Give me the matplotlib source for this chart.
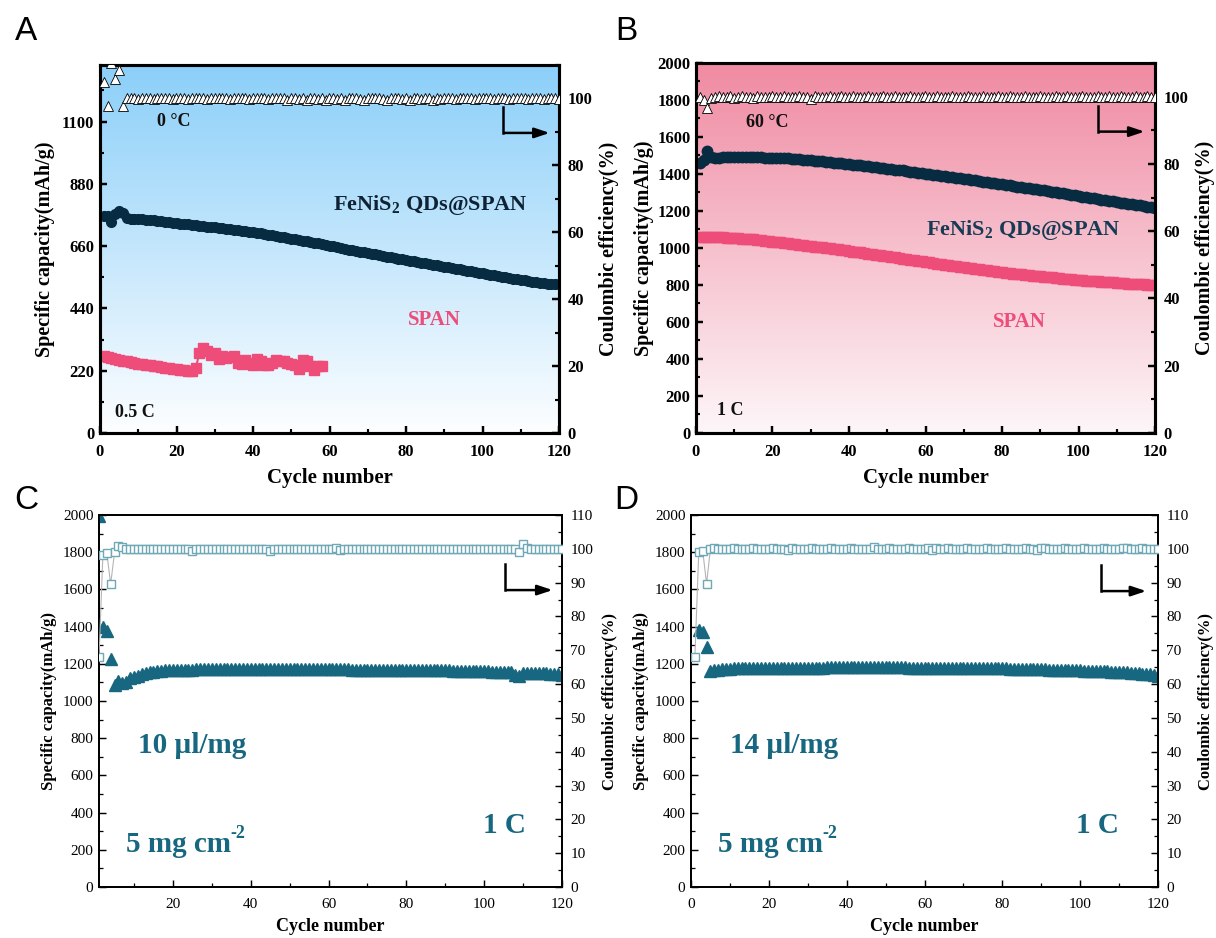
import numpy as np
import matplotlib.pyplot as plt
from matplotlib.colors import LinearSegmentedColormap
from matplotlib.ticker import MultipleLocator

plt.rcParams['font.family'] = 'Liberation Serif'
plt.rcParams['font.weight'] = 'bold'
plt.rcParams['axes.labelweight'] = 'bold'
plt.rcParams['mathtext.fontset'] = 'custom'
plt.rcParams['mathtext.rm'] = 'Liberation Serif:bold'
plt.rcParams['mathtext.it'] = 'Liberation Serif:italic:bold'
plt.rcParams['mathtext.bf'] = 'Liberation Serif:bold'

cycles = np.arange(1, 121)

# ---- panel A: 0 °C, 0.5 C ----
a_fenis2 = [765, 768, 745, 772, 785, 778, 758, 757, 757, 756,
            755, 754, 752, 751, 749, 748, 746, 745, 743, 741,
            740, 738, 737, 735, 734, 732, 731, 729, 728, 726,
            725, 723, 722, 720, 718, 717, 715, 713, 711, 709,
            707, 705, 703, 701, 699, 697, 694, 692, 690, 687,
            685, 682, 680, 677, 675, 672, 670, 667, 664, 661,
            659, 656, 654, 651, 648, 646, 643, 641, 638, 636,
            633, 631, 628, 626, 623, 621, 618, 616, 613, 611,
            609, 606, 604, 601, 599, 597, 594, 592, 590, 587,
            585, 583, 580, 578, 576, 573, 571, 569, 566, 564,
            562, 559, 557, 555, 552, 550, 548, 545, 543, 541,
            539, 537, 535, 533, 531, 529, 528, 527, 526, 525]
a_span = [273, 270, 266, 262, 259, 256, 253, 250, 247, 245,
          243, 241, 239, 237, 235, 233, 231, 229, 227, 226,
          224, 222, 220, 218, 229, 282, 300, 288, 276, 282,
          261, 271, 265, 268, 271, 247, 245, 259, 247, 241,
          261, 253, 241, 241, 247, 259, 253, 253, 249, 245,
          241, 226, 259, 253, 235, 221, 235, 235]
a_ce = [105.0, 97.8, 110.5, 105.8, 108.5, 97.8, 100.2, 100.0, 100.1, 99.9,
        100.0, 100.1, 100.0, 99.9, 100.1, 100.0, 100.0, 100.1, 99.9, 100.0,
        100.1, 100.0, 99.9, 100.0, 100.1, 100.0, 100.0, 99.9, 100.1, 100.0,
        100.0, 100.1, 100.0, 99.9, 100.0, 100.1, 100.0, 100.0, 99.9, 100.1,
        100.0, 100.0, 100.1, 99.9, 100.0, 100.0, 100.1, 100.0, 99.4, 100.0,
        100.1, 99.9, 100.0, 99.4, 100.1, 100.0, 99.9, 100.0, 99.4, 100.1,
        100.0, 99.9, 100.0, 99.4, 100.1, 100.0, 100.0, 99.9, 99.4, 100.1,
        100.0, 100.0, 100.1, 99.9, 99.4, 100.0, 100.1, 100.0, 99.9, 100.0,
        99.4, 100.0, 100.1, 99.9, 100.0, 100.1, 99.4, 100.0, 99.9, 100.1,
        100.0, 100.0, 99.9, 100.1, 100.0, 100.0, 100.1, 99.9, 100.0, 100.0,
        100.1, 100.0, 99.9, 100.0, 100.1, 100.0, 99.9, 100.1, 100.0, 100.0,
        100.1, 99.9, 100.0, 100.0, 100.1, 99.9, 100.0, 100.1, 100.0, 99.9]

# ---- panel B: 60 °C, 1 C ----
b_fenis2 = [1460, 1478, 1525, 1490, 1488, 1489, 1490, 1490, 1491, 1491,
            1491, 1491, 1491, 1491, 1490, 1490, 1490, 1489, 1489, 1488,
            1487, 1486, 1485, 1484, 1483, 1481, 1480, 1478, 1476, 1474,
            1472, 1470, 1468, 1466, 1464, 1462, 1460, 1458, 1456, 1454,
            1451, 1449, 1447, 1444, 1442, 1439, 1437, 1434, 1432, 1429,
            1427, 1424, 1421, 1419, 1416, 1413, 1411, 1408, 1405, 1402,
            1400, 1397, 1394, 1391, 1388, 1386, 1383, 1380, 1377, 1374,
            1371, 1368, 1365, 1362, 1359, 1356, 1353, 1350, 1347, 1344,
            1341, 1338, 1335, 1332, 1329, 1326, 1323, 1320, 1317, 1314,
            1311, 1307, 1304, 1301, 1298, 1295, 1291, 1288, 1285, 1282,
            1278, 1275, 1272, 1268, 1265, 1262, 1258, 1255, 1252, 1248,
            1245, 1242, 1239, 1236, 1233, 1230, 1227, 1224, 1221, 1218]
b_span = [1060, 1060, 1059, 1059, 1058, 1058, 1057, 1056, 1055, 1054,
          1053, 1051, 1050, 1048, 1046, 1044, 1042, 1039, 1037, 1035,
          1033, 1030, 1028, 1026, 1023, 1021, 1018, 1016, 1013, 1010,
          1008, 1005, 1003, 1000, 998, 995, 992, 990, 987, 984,
          981, 979, 976, 973, 970, 967, 964, 961, 958, 955,
          952, 949, 946, 943, 940, 937, 934, 931, 928, 925,
          922, 919, 916, 913, 910, 907, 904, 902, 899, 896,
          893, 891, 888, 885, 883, 880, 877, 875, 872, 870,
          867, 865, 862, 860, 858, 855, 853, 851, 849, 847,
          845, 843, 841, 839, 837, 835, 833, 831, 829, 828,
          826, 824, 823, 821, 820, 818, 817, 815, 814, 812,
          811, 810, 808, 807, 806, 805, 804, 802, 801, 800]
b_ce = [100.0, 99.0, 96.5, 99.6, 100.0, 100.1, 99.9, 100.0, 100.1, 99.5,
        100.0, 100.1, 99.9, 100.0, 99.5, 100.1, 100.0, 99.9, 100.0, 100.1,
        100.0, 99.9, 100.1, 100.0, 100.0, 99.9, 100.1, 100.0, 99.9, 99.4,
        100.1, 100.0, 100.0, 99.9, 100.1, 100.0, 100.0, 100.1, 99.9, 100.0,
        100.1, 100.0, 99.9, 100.0, 100.1, 100.0, 100.0, 99.9, 100.1, 100.0,
        100.0, 100.1, 100.0, 99.9, 100.0, 100.1, 100.0, 100.0, 99.9, 100.1,
        100.0, 100.0, 100.1, 99.9, 100.0, 100.0, 100.1, 100.0, 99.9, 100.0,
        100.1, 100.0, 99.9, 100.0, 100.1, 100.0, 100.0, 99.9, 100.1, 100.0,
        100.0, 100.1, 100.0, 99.9, 100.0, 100.1, 100.0, 100.0, 99.9, 100.1,
        100.0, 100.0, 99.9, 100.1, 100.0, 100.0, 100.1, 99.9, 100.0, 100.0,
        100.1, 100.0, 99.9, 100.0, 100.1, 100.0, 99.9, 100.1, 100.0, 100.0,
        100.1, 99.9, 100.0, 100.0, 100.1, 99.9, 100.0, 100.1, 100.0, 99.9]

# ---- panel C: 10 ul/mg ----
c_cap = [1995, 1400, 1375, 1226, 1085, 1110, 1098, 1100, 1122, 1130,
         1135, 1145, 1150, 1155, 1158, 1160, 1162, 1164, 1165, 1166,
         1167, 1168, 1168, 1169, 1169, 1170, 1170, 1170, 1170, 1170,
         1171, 1171, 1171, 1171, 1171, 1171, 1171, 1171, 1171, 1171,
         1171, 1171, 1171, 1171, 1171, 1171, 1171, 1171, 1171, 1171,
         1170, 1170, 1170, 1170, 1170, 1170, 1170, 1170, 1170, 1170,
         1170, 1170, 1170, 1170, 1170, 1169, 1169, 1169, 1169, 1169,
         1169, 1169, 1168, 1168, 1168, 1168, 1168, 1168, 1167, 1167,
         1167, 1167, 1166, 1166, 1166, 1165, 1165, 1165, 1164, 1164,
         1164, 1163, 1163, 1162, 1162, 1161, 1161, 1160, 1160, 1159,
         1159, 1158, 1158, 1157, 1157, 1156, 1156, 1140, 1133, 1150,
         1151, 1151, 1150, 1150, 1149, 1148, 1147, 1146, 1144, 1142]
c_ce = [68.0, 98.2, 98.8, 89.6, 99.0, 100.9, 100.5, 100.0, 99.9, 100.0,
        100.0, 99.9, 100.0, 100.0, 99.9, 100.0, 100.0, 99.9, 100.0, 100.0,
        99.9, 100.0, 100.0, 99.9, 99.5, 100.0, 100.0, 99.9, 100.0, 100.0,
        99.9, 100.0, 100.0, 99.9, 100.0, 100.0, 99.9, 100.0, 100.0, 99.9,
        100.0, 100.0, 99.9, 100.0, 99.5, 100.0, 99.9, 100.0, 100.0, 99.9,
        100.0, 100.0, 99.9, 100.0, 100.0, 99.9, 100.0, 100.0, 99.9, 100.0,
        100.0, 100.3, 99.6, 100.0, 99.9, 100.0, 100.0, 99.9, 100.0, 100.0,
        99.9, 100.0, 100.0, 99.9, 100.0, 100.0, 99.9, 100.0, 100.0, 99.9,
        100.0, 100.0, 99.9, 100.0, 100.0, 99.9, 100.0, 100.0, 99.9, 100.0,
        100.0, 99.9, 100.0, 100.0, 99.9, 100.0, 100.0, 99.9, 100.0, 100.0,
        99.9, 100.0, 100.0, 99.9, 100.0, 100.0, 99.9, 100.0, 99.0, 101.5,
        100.3, 100.0, 99.9, 100.0, 100.0, 99.9, 100.0, 100.0, 99.9, 100.0]

# ---- panel D: 14 ul/mg ----
d_cap = [np.nan, 1384, 1372, 1292, 1160, 1165, 1168, 1170, 1172, 1174,
         1175, 1176, 1176, 1177, 1177, 1178, 1178, 1178, 1179, 1179,
         1179, 1179, 1180, 1180, 1180, 1180, 1180, 1180, 1180, 1180,
         1180, 1180, 1180, 1180, 1181, 1181, 1181, 1181, 1181, 1181,
         1181, 1181, 1181, 1181, 1181, 1181, 1181, 1181, 1181, 1181,
         1181, 1181, 1181, 1181, 1181, 1180, 1180, 1180, 1180, 1180,
         1180, 1180, 1180, 1179, 1179, 1179, 1179, 1179, 1178, 1178,
         1178, 1178, 1177, 1177, 1177, 1176, 1176, 1176, 1175, 1175,
         1175, 1174, 1174, 1173, 1173, 1172, 1172, 1171, 1171, 1170,
         1170, 1169, 1168, 1168, 1167, 1167, 1166, 1165, 1165, 1164,
         1163, 1163, 1162, 1161, 1160, 1160, 1159, 1158, 1157, 1156,
         1155, 1154, 1153, 1151, 1149, 1147, 1145, 1143, 1140, 1137]
d_ce = [68.0, 99.2, 99.5, 89.7, 100.0, 100.1, 100.0, 99.9, 100.0, 100.0,
        100.1, 100.0, 99.9, 100.0, 100.0, 100.1, 100.0, 99.9, 100.0, 100.0,
        100.1, 100.0, 99.9, 100.0, 99.7, 100.1, 100.0, 99.9, 100.0, 100.0,
        100.1, 100.0, 99.9, 100.0, 100.0, 100.1, 100.0, 99.9, 100.0, 100.0,
        100.1, 100.0, 99.9, 100.0, 100.0, 99.8, 100.4, 99.9, 100.0, 100.0,
        100.1, 100.0, 99.9, 100.0, 100.0, 100.1, 100.0, 99.9, 100.0, 100.0,
        100.1, 99.6, 100.3, 100.0, 100.0, 100.1, 100.0, 99.9, 100.0, 100.0,
        100.1, 100.0, 99.9, 100.0, 100.0, 100.1, 100.0, 99.9, 100.0, 100.0,
        100.1, 100.0, 99.9, 100.0, 100.0, 100.1, 100.0, 99.9, 99.6, 100.3,
        100.1, 100.0, 99.9, 100.0, 100.0, 100.1, 100.0, 99.9, 100.0, 100.0,
        100.1, 100.0, 99.9, 100.0, 100.0, 100.1, 100.0, 99.9, 100.0, 100.0,
        100.1, 100.3, 99.9, 100.0, 100.0, 100.1, 100.0, 99.9, 100.0, 100.0]

x_ticks = [0, 20, 40, 60, 80, 100, 120]
x_ticks_c = [20, 40, 60, 80, 100, 120]
a_cap_ticks = [0, 220, 440, 660, 880, 1100]
cap_ticks = [0, 200, 400, 600, 800, 1000, 1200, 1400, 1600, 1800, 2000]
ce_ticks_top = [0, 20, 40, 60, 80, 100]
ce_ticks_bot = [0, 10, 20, 30, 40, 50, 60, 70, 80, 90, 100, 110]

NAVY = '#072b40'
PINK = '#ee4d79'
TEAL = '#16677f'
CE_EDGE = '#6fa8b6'
W, H = 1216, 938


def px_axes(l, t, r, b):
    return [l / W, 1 - b / H, (r - l) / W, (b - t) / H]


def gradient_bg(ax, top, bottom, xlim, ylim):
    cmap = LinearSegmentedColormap.from_list('bg', [bottom, top])
    ax.imshow(np.linspace(0, 1, 256)[:, None], extent=[*xlim, *ylim], origin='lower',
              aspect='auto', cmap=cmap, zorder=0)


def style(ax, ax2, xt, yt, y2t, mx, my, my2, bold, lw, fs):
    ax.set_xticks(xt)
    ax.set_yticks(yt)
    ax2.set_yticks(y2t)
    ax.xaxis.set_minor_locator(MultipleLocator(mx))
    ax.yaxis.set_minor_locator(MultipleLocator(my))
    ax2.yaxis.set_minor_locator(MultipleLocator(my2))
    for a in (ax, ax2):
        for s in a.spines.values():
            s.set_linewidth(lw)
        a.tick_params(which='major', direction='in', length=5, width=lw * 0.8, labelsize=fs, pad=4)
        a.tick_params(which='minor', direction='in', length=3, width=lw * 0.7)
    ax.tick_params(axis='y', which='both', right=False)
    ax.tick_params(axis='x', pad=8)
    ax2.tick_params(axis='y', pad=6)
    w = 'bold' if bold else 'normal'
    for lbl in ax.get_xticklabels() + ax.get_yticklabels() + ax2.get_yticklabels():
        lbl.set_fontweight(w)


def arrow(ax2, x0, y0, y1, x1):
    ax2.plot([x0, x0], [y0, y1], color='black', lw=1.8, zorder=5)
    ax2.annotate('', xy=(x1, y1), xytext=(x0 - 0.4, y1),
                 arrowprops=dict(arrowstyle='-|>,head_length=0.9,head_width=0.3', color='black', lw=1.8))


def loading_text(ax, x, y):
    t = ax.text(x, y, '5 mg cm', fontsize=21, va='center', color=TEAL)
    ax.annotate('-2', xy=(0.99, 0.6), xycoords=t, fontsize=13, va='bottom', ha='left', color=TEAL)


fig = plt.figure(figsize=(12.16, 9.38), dpi=100)

# ---------------- A ----------------
axA = fig.add_axes(px_axes(100, 65, 559, 433))
gradient_bg(axA, '#8bcff9', '#fdfeff', (0, 120), (0, 1300))
axA.plot(cycles, a_fenis2, 'o-', color=NAVY, ms=7, lw=1, zorder=3)
axA.plot(cycles[:len(a_span)], a_span, 's-', color=PINK, ms=7, lw=1.5, zorder=3)
axA2 = axA.twinx()
axA2.set_ylim(0, 110)
axA2.plot(cycles, a_ce, '^', mfc='white', mec='black', mew=0.6, ms=7.5, zorder=4)
axA.set_xlim(0, 120)
axA.set_ylim(0, 1300)
style(axA, axA2, x_ticks, a_cap_ticks, ce_ticks_top, 10, 110, 10, True, 2.2, 12)
axA.set_xlabel('Cycle number', fontsize=15, labelpad=6)
axA.set_ylabel('Specific capacity(mAh/g)', fontsize=14.5, labelpad=5)
axA2.set_ylabel('Coulombic efficiency(%)', fontsize=14.5, labelpad=5)
axA.text(15, 1100, '0 °C', fontsize=13, va='center', color='#111111')
axA.text(61, 806, r'FeNiS$_\mathrm{2}$ QDs@SPAN', fontsize=16, va='center', color='#0e2233')
axA.text(87.5, 400, 'SPAN', fontsize=15, ha='center', va='center', color=PINK)
axA.text(4, 74, '0.5 C', fontsize=13, va='center', color='#111111')
arrow(axA2, 105.4, 97.5, 89.7, 118.3)

# ---------------- B ----------------
axB = fig.add_axes(px_axes(696, 63, 1155, 433))
gradient_bg(axB, '#f08aa2', '#fdf6f8', (0, 120), (0, 2000))
axB.plot(cycles, b_fenis2, 'o-', color=NAVY, ms=7.5, lw=1, zorder=3)
axB.plot(cycles, b_span, 's-', color=PINK, ms=7, lw=1.5, zorder=3)
axB2 = axB.twinx()
axB2.set_ylim(0, 110)
axB2.plot(cycles, b_ce, '^', mfc='white', mec='black', mew=0.6, ms=7.5, zorder=4)
axB.set_xlim(0, 120)
axB.set_ylim(0, 2000)
style(axB, axB2, x_ticks, cap_ticks, ce_ticks_top, 10, 100, 10, True, 2.2, 12)
axB.set_xlabel('Cycle number', fontsize=15, labelpad=6)
axB.set_ylabel('Specific capacity(mAh/g)', fontsize=14.5, labelpad=2)
axB2.set_ylabel('Coulombic efficiency(%)', fontsize=14.5, labelpad=5)
axB.text(13, 1681, '60 °C', fontsize=13, va='center', color='#111111')
axB.text(60, 1097, r'FeNiS$_\mathrm{2}$ QDs@SPAN', fontsize=16, va='center', color='#173a55')
axB.text(84.5, 600, 'SPAN', fontsize=15, ha='center', va='center', color=PINK)
axB.text(5.5, 119, '1 C', fontsize=13, va='center', color='#111111')
arrow(axB2, 105.2, 97.2, 89.6, 118.0)

# ---------------- C ----------------
axC = fig.add_axes(px_axes(99, 515, 562, 887))
axC2 = axC.twinx()
axC2.plot(cycles, c_ce, 's-', color='#b5b5b5', lw=0.8, mfc='white', mec=CE_EDGE, mew=1.0, ms=6, zorder=3)
axC.plot(cycles, c_cap, '^', color=TEAL, ms=8, zorder=3)
axC.set_xlim(1, 120)
axC.set_ylim(0, 2000)
axC2.set_ylim(0, 110)
style(axC, axC2, x_ticks_c, cap_ticks, ce_ticks_bot, 10, 100, 5, False, 1.3, 11)
axC.set_xlabel('Cycle number', fontsize=13, labelpad=5)
axC.set_ylabel('Specific capacity(mAh/g)', fontsize=12, labelpad=4)
axC2.set_ylabel('Coulombic efficiency(%)', fontsize=12, labelpad=6)
axC.text(11, 763, '10 µl/mg', fontsize=21, va='center', color=TEAL)
loading_text(axC, 8, 226)
axC.text(99.7, 328, '1 C', fontsize=21, va='center', color=TEAL)
arrow(axC2, 105.4, 95.5, 87.8, 118.3)

# ---------------- D ----------------
axD = fig.add_axes(px_axes(691, 515, 1158, 887))
axD2 = axD.twinx()
axD2.plot(cycles, d_ce, 's-', color='#b5b5b5', lw=0.8, mfc='white', mec=CE_EDGE, mew=1.0, ms=6, zorder=3)
axD.plot(cycles, d_cap, '^', color=TEAL, ms=8, zorder=3)
axD.set_xlim(0, 120)
axD.set_ylim(0, 2000)
axD2.set_ylim(0, 110)
style(axD, axD2, x_ticks, cap_ticks, ce_ticks_bot, 10, 100, 5, False, 1.3, 11)
axD.set_xlabel('Cycle number', fontsize=13, labelpad=5)
axD.set_ylabel('Specific capacity(mAh/g)', fontsize=12, labelpad=4)
axD2.set_ylabel('Coulombic efficiency(%)', fontsize=12, labelpad=6)
axD.text(10, 763, '14 µl/mg', fontsize=21, va='center', color=TEAL)
loading_text(axD, 7, 226)
axD.text(99, 328, '1 C', fontsize=21, va='center', color=TEAL)
arrow(axD2, 105.3, 95.3, 87.5, 117.7)

# panel letters
for letter, x, y in [('A', 26, 32), ('B', 626, 32), ('C', 26, 500), ('D', 626, 500)]:
    fig.text(x / W, 1 - y / H, letter, fontsize=24, family='Liberation Sans', weight='normal',
             ha='center', va='center')

fig.savefig('out.png', dpi=100)
